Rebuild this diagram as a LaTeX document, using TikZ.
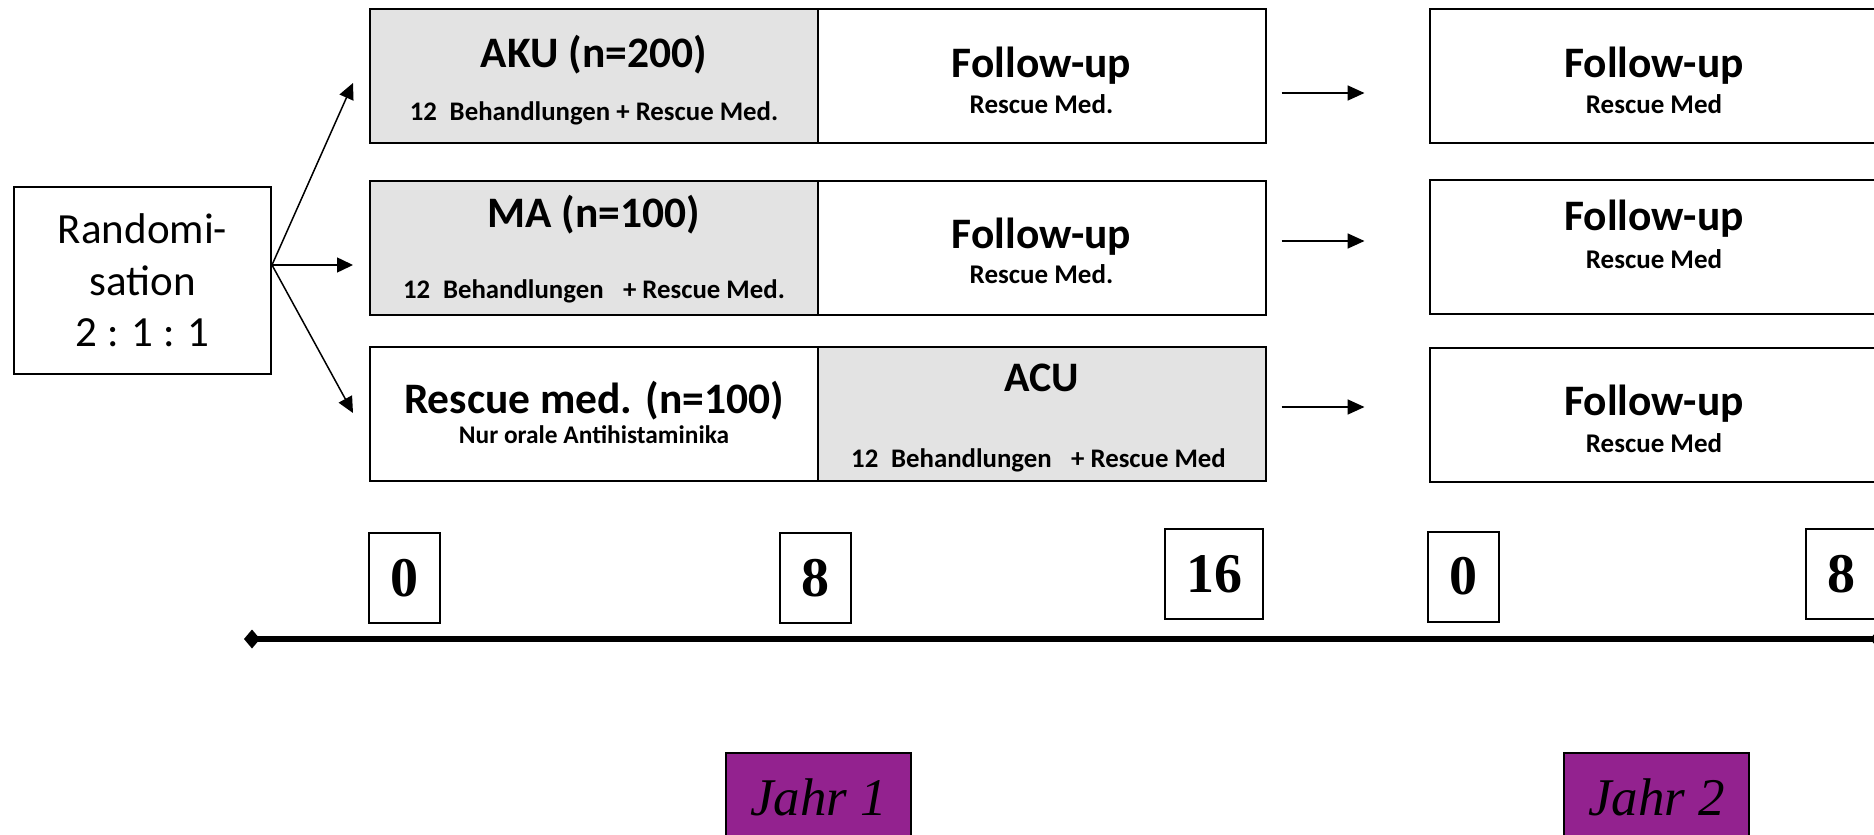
\documentclass[tikz,border=0pt]{standalone}
\usepackage{fontspec}
\setmainfont{Carlito}
\newfontfamily\timesfont{Liberation Serif}
\usetikzlibrary{arrows.meta}
\usetikzlibrary{calc}

\begin{document}
\begin{tikzpicture}
	[x=1pt,y=-1pt,
	%Styles
	box/.style={draw,line width=2pt,minimum width=448pt,minimum height=134pt,inner sep=0pt},
	treat box/.style={box,fill=treatgray},
	title text/.style={anchor=base,inner sep=0pt,font=\fontsize{#1}{#1}\selectfont\bfseries},
	title text/.default=43.5,
	sub text/.style={anchor=base,inner sep=0pt,font=\fontsize{#1}{#1}\selectfont\bfseries},
	sub text/.default=27,
	week box/.style={draw,line width=2pt,minimum width=71pt,minimum height=90pt,inner sep=0pt,
		font=\timesfont\fontsize{56}{60}\selectfont\bfseries},
	year box/.style={draw,line width=2pt,fill=yearpurple,minimum width=185pt,minimum height=90pt,inner sep=0pt,
		font=\timesfont\fontsize{53}{60}\selectfont\itshape},
	branch/.style={-{Triangle[length=16pt,width=15pt]},line width=1.5pt},
	carry/.style={-{Triangle[length=17pt,width=15pt]},line width=1.8pt},
	timeline/.style={{Diamond[length=16pt,width=19pt]}-{Diamond[length=16pt,width=19pt]},line width=6.5pt}
	]
	
	%Colors
	\definecolor{treatgray}{RGB}{227,227,227}
	\definecolor{yearpurple}{RGB}{147,34,143}
	
	\useasboundingbox (0,0) rectangle (1874,835);
	\clip (0,0) rectangle (1874,835);
	
	%Randomisation
	\node[draw,line width=2pt,minimum width=257pt,minimum height=187pt,align=center,
		font=\fontsize{43}{51.5}\selectfont] (rand) at (142.5,280.5) {Randomi-\\sation\\2 : 1 : 1};
	
	%Year 1
	\node[treat box] (aku) at (594,76) {};
	\node[box] (fu1) at (1041.5,76) {};
	\node[treat box] (ma) at (594,247.5) {};
	\node[box] (fu2) at (1041.5,247.5) {};
	\node[box] (rm) at (594,413.5) {};
	\node[treat box] (acu) at (1041.5,413.5) {};
	
	%Year 2
	\node[box] (fr1) at (1654,76) {};
	\node[box] (fr2) at (1654,246.5) {};
	\node[box] (fr3) at (1654,414.5) {};
	
	%Texts
	\node[title text] (aku title) at (594,67) {AKU (n=200)};
	\node[sub text=26.8] (aku sub) at (594,120) {12\hspace{0.25em} Behandlungen + Rescue Med.};
	\node[title text] (ma title) at (594,227) {MA (n=100)};
	\node[sub text=26.8] (ma sub) at (594,298) {12\hspace{0.25em} Behandlungen\hspace{0.5em} + Rescue Med.};
	\node[title text] (rm title) at (594,413) {Rescue med. (n=100)};
	\node[sub text=25.4] (rm sub) at (594,443) {Nur orale Antihistaminika};
	\node[title text=42] (acu title) at (1041.5,391) {ACU};
	\node[sub text=26.8] (acu sub) at (1038.5,467) {12\hspace{0.25em} Behandlungen\hspace{0.5em} + Rescue Med};
	
	\node[title text] (fu1 title) at (1041.5,77) {Follow-up};
	\node[sub text] (fu1 sub) at (1041.5,113) {Rescue Med.};
	\node[title text] (fu2 title) at (1041.5,248) {Follow-up};
	\node[sub text] (fu2 sub) at (1041.5,283) {Rescue Med.};
	
	\node[title text] (fr1 title) at (1654,77) {Follow-up};
	\node[sub text] (fr1 sub) at (1654,113) {Rescue Med};
	\node[title text] (fr2 title) at (1654,230) {Follow-up};
	\node[sub text] (fr2 sub) at (1654,268) {Rescue Med};
	\node[title text] (fr3 title) at (1654,415) {Follow-up};
	\node[sub text] (fr3 sub) at (1654,452) {Rescue Med};
	
	%Arrows
	\coordinate (split) at ($(rand.east)+(0,-15.5)$);
	\coordinate (to aku) at (353,83);
	\coordinate (to ma) at (353,265);
	\coordinate (to rm) at (353,413);
	\draw[branch] (split) -- (to aku);
	\draw[branch] (split) -- (to ma);
	\draw[branch] (split) -- (to rm);
	
	\draw[carry] ($(fu1.east)+(15,17)$) -- ($(fu1.east)+(98,17)$);
	\draw[carry] ($(fu2.east)+(15,-6.5)$) -- ($(fu2.east)+(98,-6.5)$);
	\draw[carry] ($(acu.east)+(15,-6.5)$) -- ($(acu.east)+(98,-6.5)$);
	
	%Timeline
	\node[week box] (w0) at (404.5,578) {0};
	\node[week box] (w8) at (815.5,578) {8};
	\node[week box,minimum width=98pt] (w16) at (1214,574) {16};
	\node[week box] (v0) at (1463.5,576.5) {0};
	\node[week box] (v8) at (1841.5,574) {8};
	
	\coordinate (t start) at (244,639);
	\coordinate (t end) at (1886,639);
	\draw[timeline] (t start) -- (t end);
	
	\node[year box] (year1) at (818.5,797.5) {Jahr 1};
	\node[year box] (year2) at (1656.5,797.5) {Jahr 2};
\end{tikzpicture}
\end{document}
